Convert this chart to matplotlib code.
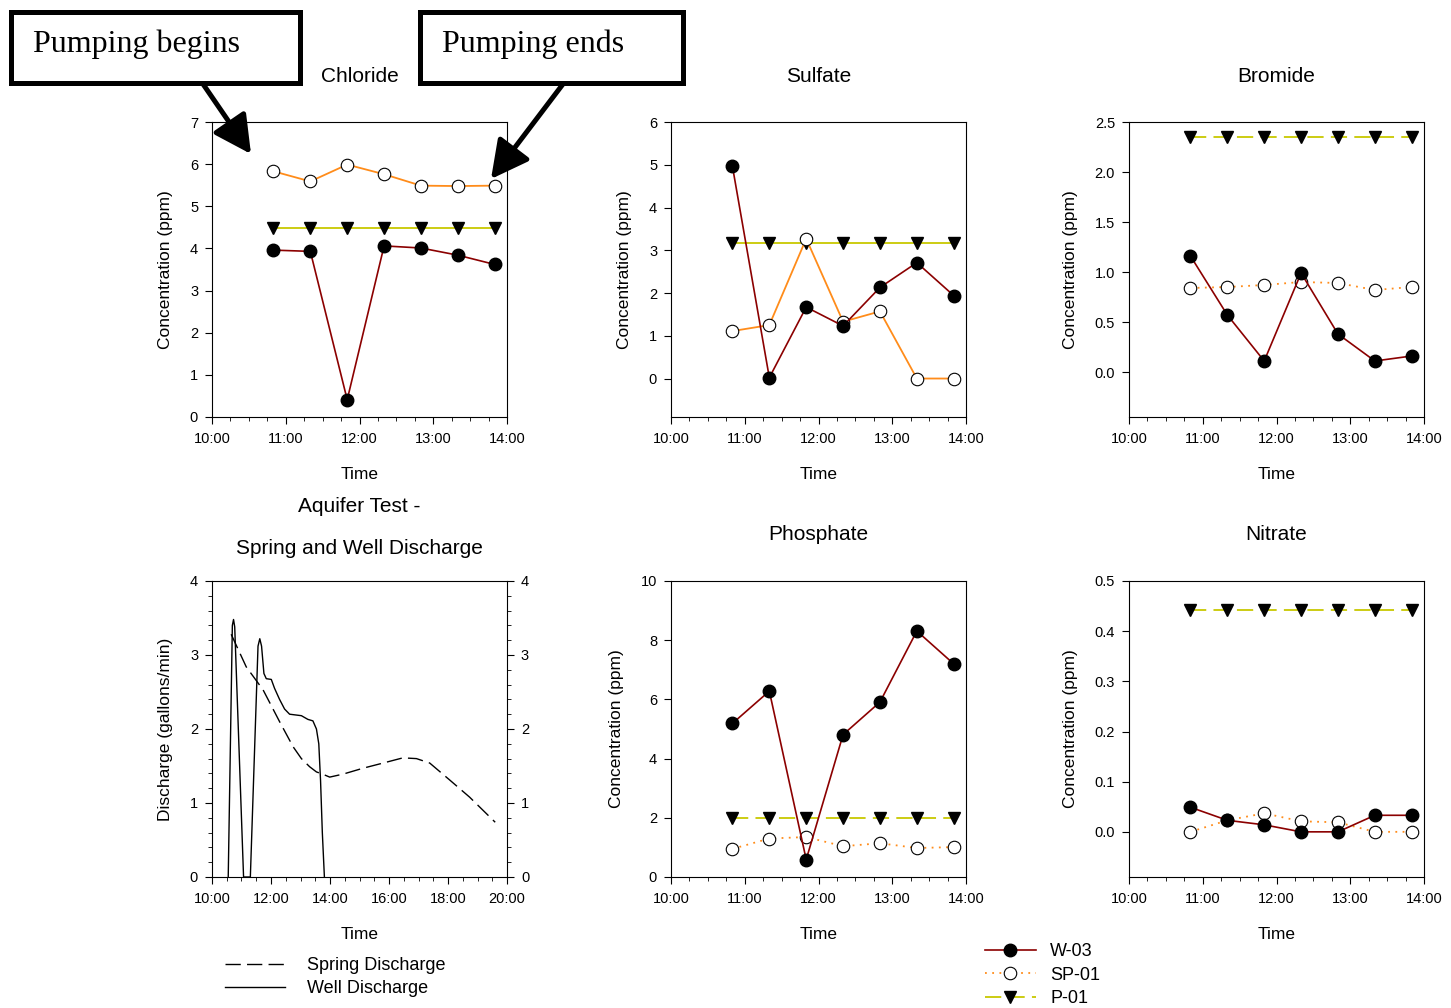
import numpy as np
import matplotlib.pyplot as plt
from matplotlib.lines import Line2D
from matplotlib.patches import Rectangle, FancyArrowPatch
from matplotlib.ticker import MultipleLocator, FuncFormatter

W, H = 1451, 1008
plt.rcParams['font.family'] = ['Liberation Sans', 'DejaVu Sans']

# sampling times for the water chemistry
sample_times = ["10:50", "11:20", "11:50", "12:20", "12:50", "13:20", "13:50"]

chloride_w03 = [3.96, 3.93, 0.41, 4.06, 4.01, 3.84, 3.62]
chloride_sp01 = [5.83, 5.59, 5.99, 5.76, 5.49, 5.48, 5.49]
chloride_p01 = [4.49] * 7

sulfate_w03 = [4.96, 0.02, 1.67, 1.23, 2.13, 2.71, 1.94]
sulfate_sp01 = [1.11, 1.25, 3.27, 1.33, 1.57, 0.0, 0.0]
sulfate_p01 = [3.17] * 7

bromide_w03 = [1.16, 0.57, 0.11, 0.99, 0.38, 0.11, 0.16]
bromide_sp01 = [0.84, 0.85, 0.87, 0.90, 0.89, 0.82, 0.85]
bromide_p01 = [2.35] * 7

phosphate_w03 = [5.19, 6.28, 0.59, 4.81, 5.91, 8.31, 7.20]
phosphate_sp01 = [0.95, 1.30, 1.35, 1.04, 1.14, 0.98, 1.01]
phosphate_p01 = [2.0] * 7

nitrate_w03 = [0.049, 0.023, 0.014, 0.0, 0.0, 0.033, 0.033]
nitrate_sp01 = [0.0, 0.023, 0.037, 0.021, 0.019, 0.0, 0.0]
nitrate_p01 = [0.443] * 7

# aquifer test discharge (hours, gallons/min)
spring_hours = [10.65, 11.16, 11.73, 12.29, 12.75, 13.03, 13.31, 13.54, 13.75, 13.99,
                14.44, 15.12, 15.80, 16.47, 16.93, 17.38, 18.06, 18.73, 19.60]
spring_q = [3.28, 2.84, 2.53, 2.10, 1.76, 1.60, 1.49, 1.42, 1.39, 1.35,
            1.39, 1.47, 1.54, 1.61, 1.60, 1.54, 1.31, 1.08, 0.74]
well_hours = [10.55, 10.69, 10.73, 10.77, 11.07, 11.30, 11.56, 11.62, 11.68, 11.76,
              11.84, 12.01, 12.12, 12.29, 12.46, 12.63, 13.03, 13.25, 13.42, 13.54,
              13.62, 13.68, 13.74, 13.81]
well_q = [0.0, 3.40, 3.48, 3.38, 0.0, 0.0, 3.12, 3.22, 3.12, 2.75,
          2.68, 2.67, 2.55, 2.40, 2.27, 2.20, 2.18, 2.13, 2.11, 2.00,
          1.80, 1.30, 0.60, 0.0]

series_names = ["W-03", "SP-01", "P-01"]
c_w03, c_sp01, c_p01 = '#8B0000', '#FF8C1A', '#C8C800'


def to_hours(t):
    h, m = t.split(":")
    return int(h) + int(m) / 60


def px_axes(left, top, right, bottom):
    return fig.add_axes([left / W, 1 - bottom / H, (right - left) / W, (bottom - top) / H])


time_fmt = FuncFormatter(lambda v, _: f"{int(round(v))}:00")

fig = plt.figure(figsize=(W / 100, H / 100), dpi=100)

x = [to_hours(t) for t in sample_times]

panels = [
    ("Chloride", (212, 122, 507, 417), (0, 7), np.arange(0, 8, 1), "%d", False,
     chloride_w03, chloride_sp01, chloride_p01),
    ("Sulfate", (671, 122, 966, 417), (-0.9, 6), np.arange(0, 7, 1), "%d", False,
     sulfate_w03, sulfate_sp01, sulfate_p01),
    ("Bromide", (1129, 122, 1424, 417), (-0.45, 2.5), np.arange(0, 2.51, 0.5), "%.1f", True,
     bromide_w03, bromide_sp01, bromide_p01),
    ("Phosphate", (671, 581, 966, 877), (0, 10), np.arange(0, 11, 2), "%d", True,
     phosphate_w03, phosphate_sp01, phosphate_p01),
    ("Nitrate", (1129, 581, 1424, 877), (-0.09, 0.5), np.arange(0, 0.51, 0.1), "%.1f", True,
     nitrate_w03, nitrate_sp01, nitrate_p01),
]


def style_ticks(ax):
    ax.tick_params(which='major', direction='out', length=5, labelsize=10.5)
    ax.tick_params(axis='x', which='major', pad=6)
    ax.tick_params(axis='y', which='major', pad=5)
    ax.tick_params(which='minor', direction='out', length=3)


for title, box, ylim, yticks, fmt, broken, w03, sp01, p01 in panels:
    ax = px_axes(*box)
    sp_style = dict(ls=(0, (1, 3))) if broken else dict(ls='-')
    p_style = dict(dashes=(9, 4)) if broken else dict(ls='-')
    ax.plot(x, p01, color=c_p01, lw=1.3, marker='v', ms=9, mfc='black', mec='black', **p_style)
    ax.plot(x, sp01, color=c_sp01, lw=1.3, marker='o', ms=9, mfc='white', mec='black',
            mew=0.8, **sp_style)
    ax.plot(x, w03, color=c_w03, lw=1.2, marker='o', ms=9, mfc='black', mec='black')
    ax.set_xlim(10, 14)
    ax.set_ylim(*ylim)
    ax.set_yticks(yticks)
    ax.yaxis.set_major_formatter(plt.FormatStrFormatter(fmt))
    ax.xaxis.set_major_locator(MultipleLocator(1))
    ax.xaxis.set_minor_locator(MultipleLocator(0.25))
    ax.xaxis.set_major_formatter(time_fmt)
    style_ticks(ax)
    ax.set_xlabel("Time", fontsize=12.5, labelpad=15)
    ax.set_ylabel("Concentration (ppm)", fontsize=12.5, labelpad=12)
    ax.text(0.5, 1 + 46 / 295, title, transform=ax.transAxes, ha='center', va='center',
            fontsize=15)

# aquifer test panel
ax = px_axes(212, 581, 507, 877)
spring_line, = ax.plot(spring_hours, spring_q, color='black', lw=1, dashes=(11, 4.5))
well_line, = ax.plot(well_hours, well_q, color='black', lw=1)
ax.set_xlim(10, 20)
ax.set_ylim(0, 4)
ax.xaxis.set_major_locator(MultipleLocator(2))
ax.xaxis.set_minor_locator(MultipleLocator(0.5))
ax.xaxis.set_major_formatter(time_fmt)
ax.yaxis.set_major_locator(MultipleLocator(1))
ax.yaxis.set_minor_locator(MultipleLocator(0.2))
ax.tick_params(which='both', right=True, labelright=True)
style_ticks(ax)
ax.set_xlabel("Time", fontsize=12.5, labelpad=15)
ax.set_ylabel("Discharge (gallons/min)", fontsize=12.5, labelpad=12)
ax.text(0.5, 1 + 75 / 296, "Aquifer Test -", transform=ax.transAxes, ha='center',
        va='center', fontsize=15)
ax.text(0.5, 1 + 33 / 296, "Spring and Well Discharge", transform=ax.transAxes,
        ha='center', va='center', fontsize=15)

# legends
fig.legend([spring_line, well_line], ["Spring Discharge", "Well Discharge"],
           loc='upper left', bbox_to_anchor=(225 / W, 1 - 957 / H), frameon=False,
           fontsize=13, handlelength=3.3, handletextpad=1.25, labelspacing=0.33,
           borderpad=0, borderaxespad=0)
h_w = Line2D([], [], color=c_w03, lw=1.2, marker='o', ms=9, mfc='black', mec='black')
h_sp = Line2D([], [], color=c_sp01, lw=1.3, ls=(0, (1, 3)), marker='o', ms=9,
              mfc='white', mec='black', mew=0.8)
h_p = Line2D([], [], color=c_p01, lw=1.3, dashes=(9, 4), marker='v', ms=9,
             mfc='black', mec='black')
fig.legend([h_w, h_sp, h_p], series_names, loc='upper left',
           bbox_to_anchor=(985 / W, 1 - 943 / H), frameon=False, fontsize=13,
           handlelength=2.8, handletextpad=0.8, labelspacing=0.36, borderpad=0,
           borderaxespad=0)

# pumping annotations
for (x0, x1), label, start, tip in [((10.5, 299.5), "Pumping begins", (203, 84), (251, 154)),
                                     ((419.5, 683), "Pumping ends", (563, 84), (491, 179))]:
    fig.patches.append(Rectangle((x0 / W, 1 - 82.5 / H), (x1 - x0) / W, 71 / H,
                                 transform=fig.transFigure, fill=False, lw=3.6,
                                 ec='black'))
    fig.text((x0 + 22.5) / W, 1 - 44 / H, label, family='Liberation Serif',
             fontsize=23, ha='left', va='center')
    fig.patches.append(FancyArrowPatch((start[0] / W, 1 - start[1] / H),
                                       (tip[0] / W, 1 - tip[1] / H),
                                       transform=fig.transFigure,
                                       arrowstyle='-|>,head_length=1.15,head_width=0.6',
                                       mutation_scale=20, lw=3.6, color='black',
                                       shrinkA=0, shrinkB=0))

fig.savefig("out.png", dpi=100)
